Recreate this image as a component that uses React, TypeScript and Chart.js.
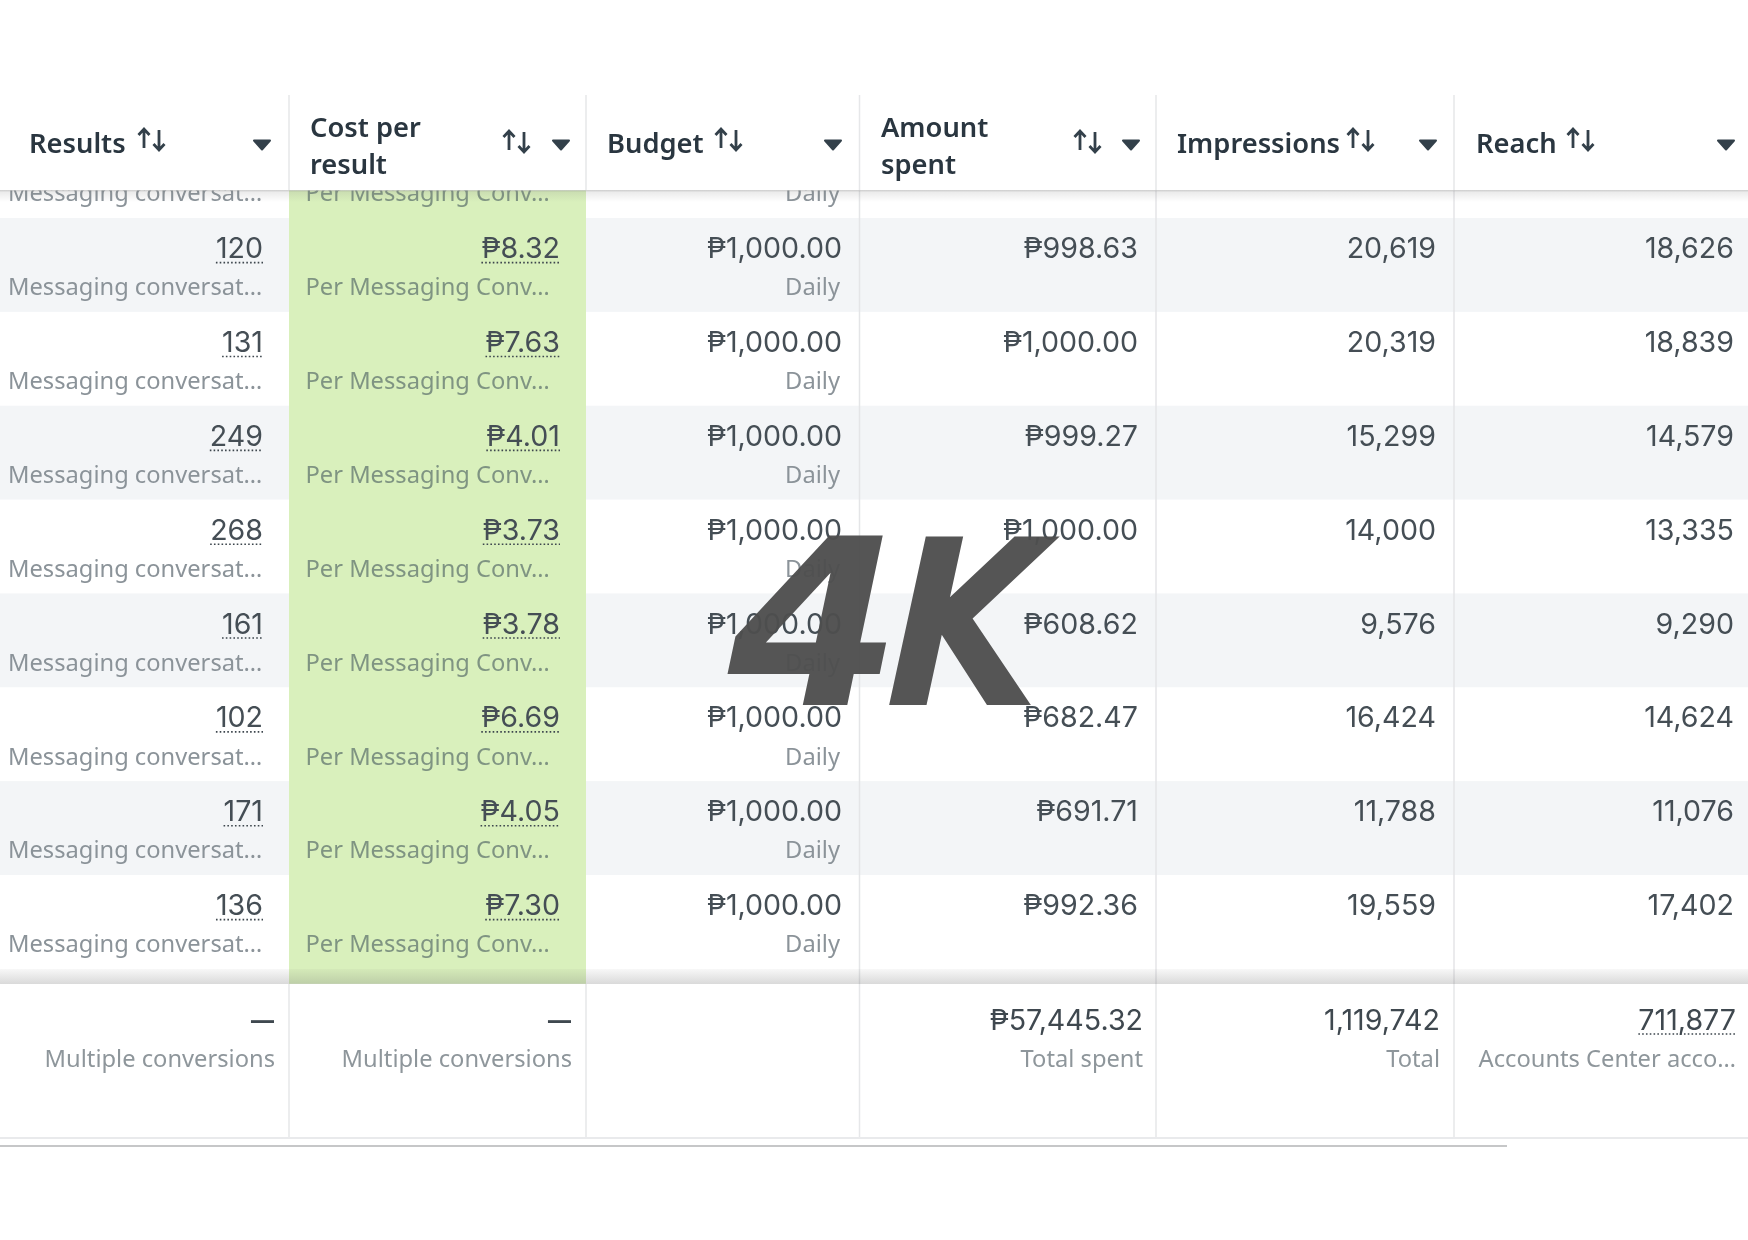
import React, { useEffect, useRef } from "react";
import { Chart, registerables } from "chart.js";

Chart.register(...registerables);

// ---- data ----
const columns = ["Results", "Cost per result", "Budget", "Amount spent", "Impressions", "Reach"];
const results = [120, 131, 249, 268, 161, 102, 171, 136];
const costPerResult = [8.32, 7.63, 4.01, 3.73, 3.78, 6.69, 4.05, 7.3];
const budget = [1000, 1000, 1000, 1000, 1000, 1000, 1000, 1000];
const amountSpent = [998.63, 1000, 999.27, 1000, 608.62, 682.47, 691.71, 992.36];
const impressions = [20619, 20319, 15299, 14000, 9576, 16424, 11788, 19559];
const reach = [18626, 18839, 14579, 13335, 9290, 14624, 11076, 17402];
const footerValues = ["—", "—", "", "₱57,445.32", "1,119,742", "711,877"];
const footerNotes = ["Multiple conversions", "Multiple conversions", "", "Total spent", "Total", "Accounts Center acco…"];
const resultNote = "Messaging conversat…";
const costNote = "Per Messaging Conv…";
const budgetNote = "Daily";
const watermark = ["4", "K"];

// ---- layout ----
const W = 1748, H = 1240;
const ROW_H = 93.85, ROW_TOP = 218;
const edges = [0, 289, 586, 859.5, 1156, 1454, 1748];
const valueRight = [263, 560, 842, 1138, 1436, 1734];
const footerRight = [275, 572, 842, 1143, 1440, 1736];
const headerLeft = [29, 310, 607, 881, 1177, 1476];
const arrowLeft = [138, 503, 715, 1074, 1347, 1567];
const caretX = [262, 561, 833, 1131, 1428, 1726];

const peso = (v: number) => "₱" + v.toLocaleString("en-US", { minimumFractionDigits: 2, maximumFractionDigits: 2 });
const int = (v: number) => v.toLocaleString("en-US");
const VAL_OFF = 0.337, NOTE_OFF = 0.752;

const VAL_FONT = '400 28.6px "Inter"';
const NOTE_FONT = '400 23.7px "Noto Sans"';
const HEAD_FONT = '600 27.3px "Noto Sans"';

const colData = [
  results.map(int),
  costPerResult.map(peso),
  budget.map(peso),
  amountSpent.map(peso),
  impressions.map(int),
  reach.map(int),
];

const tablePlugin = {
  id: "adsTable",
  beforeDatasetsDraw(chart: any) {
    const { ctx, scales } = chart;
    const X = (v: number) => scales.x.getPixelForValue(v);
    const Y = (v: number) => scales.y.getPixelForValue(v);
    ctx.save();
    ctx.fillStyle = "#ffffff";
    ctx.fillRect(0, 0, W, H);
    ctx.fillStyle = "#f3f5f7";
    for (let i = 0; i < results.length; i += 2) {
      ctx.fillRect(X(edges[0]), Y(i), X(edges[6]) - X(edges[0]), Y(i + 1) - Y(i));
    }
    ctx.fillStyle = "#d9f0bc";
    ctx.fillRect(X(edges[1]), Y(-1), X(edges[2]) - X(edges[1]), Y(8.16) - Y(-1));
    ctx.restore();
  },
  afterDatasetsDraw(chart: any) {
    const { ctx, scales } = chart;
    const X = (v: number) => scales.x.getPixelForValue(v);
    const Y = (v: number) => scales.y.getPixelForValue(v);
    const yOf = (px: number) => Y((px - ROW_TOP) / ROW_H);
    ctx.save();

    ctx.strokeStyle = "#e4e5e7";
    ctx.lineWidth = 1.5;
    for (let c = 3; c < 6; c++) {
      ctx.beginPath();
      ctx.moveTo(X(edges[c]), yOf(190));
      ctx.lineTo(X(edges[c]), yOf(984));
      ctx.stroke();
    }

    ctx.filter = "blur(0.6px)";
    chart.data.datasets.forEach((ds: any, di: number) => {
      const meta = chart.getDatasetMeta(di);
      ctx.textBaseline = "middle";
      meta.data.forEach((el: any, i: number) => {
        const raw = ds.data[i];
        ctx.font = raw.kind === "note" ? NOTE_FONT : VAL_FONT;
        ctx.fillStyle = raw.kind === "note" ? (di === 1 ? "#7f9482" : "#8b9399") : "#454e55";
        ctx.textAlign = raw.align || "right";
        ctx.fillText(raw.text, el.x, el.y);
        if (raw.dotted) {
          const w = ctx.measureText(raw.text).width;
          ctx.save();
          ctx.filter = "none";
          ctx.strokeStyle = "#3d464d";
          ctx.lineWidth = 1.6;
          ctx.setLineDash([1.6, 2.2]);
          ctx.beginPath();
          ctx.moveTo(el.x - w, el.y + 13);
          ctx.lineTo(el.x, el.y + 13);
          ctx.stroke();
          ctx.restore();
        }
      });
    });
    ctx.filter = "none";

    ctx.fillStyle = "#ffffff";
    ctx.fillRect(0, 0, W, yOf(190.5));
    const g = ctx.createLinearGradient(0, yOf(190), 0, yOf(202));
    g.addColorStop(0, "rgba(120,120,120,0.38)");
    g.addColorStop(0.2, "rgba(120,120,120,0.14)");
    g.addColorStop(1, "rgba(120,120,120,0)");
    ctx.fillStyle = g;
    ctx.fillRect(0, yOf(190), W, yOf(202) - yOf(190));

    const g2 = ctx.createLinearGradient(0, yOf(969), 0, yOf(984));
    g2.addColorStop(0, "rgba(110,110,110,0.05)");
    g2.addColorStop(1, "rgba(110,110,110,0.26)");
    ctx.fillStyle = g2;
    ctx.fillRect(0, yOf(969), W, yOf(984) - yOf(969));
    ctx.fillStyle = "#ffffff";
    ctx.fillRect(0, yOf(984), W, yOf(1137) - yOf(984));

    ctx.strokeStyle = "#e6e7e9";
    ctx.lineWidth = 1.5;
    for (let c = 1; c < 6; c++) {
      ctx.beginPath();
      ctx.moveTo(X(edges[c]), yOf(95));
      ctx.lineTo(X(edges[c]), yOf(190));
      ctx.moveTo(X(edges[c]), yOf(984));
      ctx.lineTo(X(edges[c]), yOf(1138));
      ctx.stroke();
    }
    ctx.fillStyle = "#e9eaec";
    ctx.fillRect(0, yOf(1137), W, 2);
    ctx.fillStyle = "#c6c7c8";
    ctx.fillRect(0, yOf(1145), X(1507), 2);

    ctx.filter = "blur(0.5px)";
    ctx.font = HEAD_FONT;
    ctx.fillStyle = "#2a3640";
    ctx.textAlign = "left";
    ctx.textBaseline = "middle";
    columns.forEach((name, c) => {
      const words = name.split(" ");
      if (c === 1 || c === 3) {
        const cut = c === 1 ? 2 : 1;
        ctx.fillText(words.slice(0, cut).join(" "), X(headerLeft[c]), yOf(129.5));
        ctx.fillText(words.slice(cut).join(" "), X(headerLeft[c]), yOf(166.5));
      } else {
        ctx.fillText(name, X(headerLeft[c]), yOf(145.5));
      }
    });
    ctx.filter = "none";

    ctx.strokeStyle = "#33404a";
    ctx.fillStyle = "#33404a";
    ctx.lineWidth = 2.8;
    arrowLeft.forEach((ax, c) => {
      const off = c === 1 || c === 3 ? 1 : -1;
      const a = X(ax + 6), b = X(ax + 21);
      const t = yOf(129 + off), m = yOf(149 + off), d = yOf(152 + off), u = yOf(131 + off);
      ctx.beginPath();
      ctx.moveTo(a, m); ctx.lineTo(a, t + 2);
      ctx.moveTo(a - 5.5, t + 7); ctx.lineTo(a, t + 1); ctx.lineTo(a + 5.5, t + 7);
      ctx.moveTo(b, u); ctx.lineTo(b, d - 2);
      ctx.moveTo(b - 5.5, d - 7); ctx.lineTo(b, d - 1); ctx.lineTo(b + 5.5, d - 7);
      ctx.stroke();
    });
    ctx.lineJoin = "round";
    ctx.lineWidth = 2;
    caretX.forEach((cx) => {
      const p = X(cx);
      ctx.beginPath();
      ctx.moveTo(p - 8, yOf(140.5));
      ctx.lineTo(p + 8, yOf(140.5));
      ctx.lineTo(p, yOf(149.5));
      ctx.closePath();
      ctx.fill();
      ctx.stroke();
    });

    ctx.filter = "blur(0.5px)";
    footerValues.forEach((v, c) => {
      if (!v) return;
      ctx.textAlign = "right";
      ctx.font = v === "—" ? '700 25px "Noto Sans"' : VAL_FONT;
      ctx.fillStyle = "#3f484f";
      const x = X(footerRight[c]);
      ctx.fillText(v, x, yOf(1021));
      if (c === 5) {
        const w = ctx.measureText(v).width;
        ctx.save();
        ctx.filter = "none";
        ctx.strokeStyle = "#3d464d";
        ctx.lineWidth = 1.6;
        ctx.setLineDash([1.6, 2.2]);
        ctx.beginPath();
        ctx.moveTo(x - w, yOf(1034));
        ctx.lineTo(x, yOf(1034));
        ctx.stroke();
        ctx.restore();
      }
      ctx.font = NOTE_FONT;
      ctx.fillStyle = "#8e969b";
      ctx.fillText(footerNotes[c], x, yOf(1060));
    });
    ctx.filter = "none";

    // watermark, each glyph fitted on its own
    ctx.font = 'italic 700 231px "DejaVu Sans"';
    ctx.fillStyle = "rgba(78,78,78,0.96)";
    ctx.textAlign = "left";
    ctx.textBaseline = "alphabetic";
    const glyphs: [string, number, number, number][] = [
      [watermark[0], 727.7, 1.08, 0],
      [watermark[1], 885, 0.86, -0.05],
    ];
    glyphs.forEach(([t, x, sx, skew]) => {
      ctx.save();
      ctx.translate(X(x), yOf(705));
      ctx.transform(sx, 0, skew, 1, 0, 0);
      ctx.fillText(t, 0, 0);
      ctx.restore();
    });
    ctx.restore();
  },
};

function buildDatasets() {
  const noteRows = [-1, 0, 1, 2, 3, 4, 5, 6, 7];
  return columns.map((name, c) => {
    const rows: any[] = colData[c].map((text, i) => ({
      x: valueRight[c],
      y: i + VAL_OFF,
      text,
      kind: "value",
      dotted: c < 2,
    }));
    if (c === 0) noteRows.forEach((i) => rows.push({ x: 8, y: i + NOTE_OFF, text: resultNote, kind: "note", align: "left" }));
    if (c === 1) noteRows.forEach((i) => rows.push({ x: 305.5, y: i + NOTE_OFF, text: costNote, kind: "note", align: "left" }));
    if (c === 2) noteRows.forEach((i) => rows.push({ x: 840, y: i + NOTE_OFF, text: budgetNote, kind: "note" }));
    return { label: name, data: rows, pointRadius: 0, showLine: false };
  });
}

export default function App() {
  const ref = useRef<HTMLCanvasElement | null>(null);
  useEffect(() => {
    document.body.style.margin = "0";
    const chart = new Chart(ref.current as HTMLCanvasElement, {
      type: "scatter",
      data: { datasets: buildDatasets() as any },
      options: {
        animation: false,
        responsive: false,
        devicePixelRatio: 1,
        layout: { padding: 0 },
        plugins: { legend: { display: false }, tooltip: { enabled: false }, title: { display: false } },
        scales: {
          x: { type: "linear", display: false, min: 0, max: W },
          y: { type: "linear", display: false, reverse: true, min: -ROW_TOP / ROW_H, max: (H - ROW_TOP) / ROW_H },
        },
      },
      plugins: [tablePlugin],
    } as any);
    return () => chart.destroy();
  }, []);
  return <canvas ref={ref} width={W} height={H} style={{ display: "block", width: W, height: H }} />;
}
